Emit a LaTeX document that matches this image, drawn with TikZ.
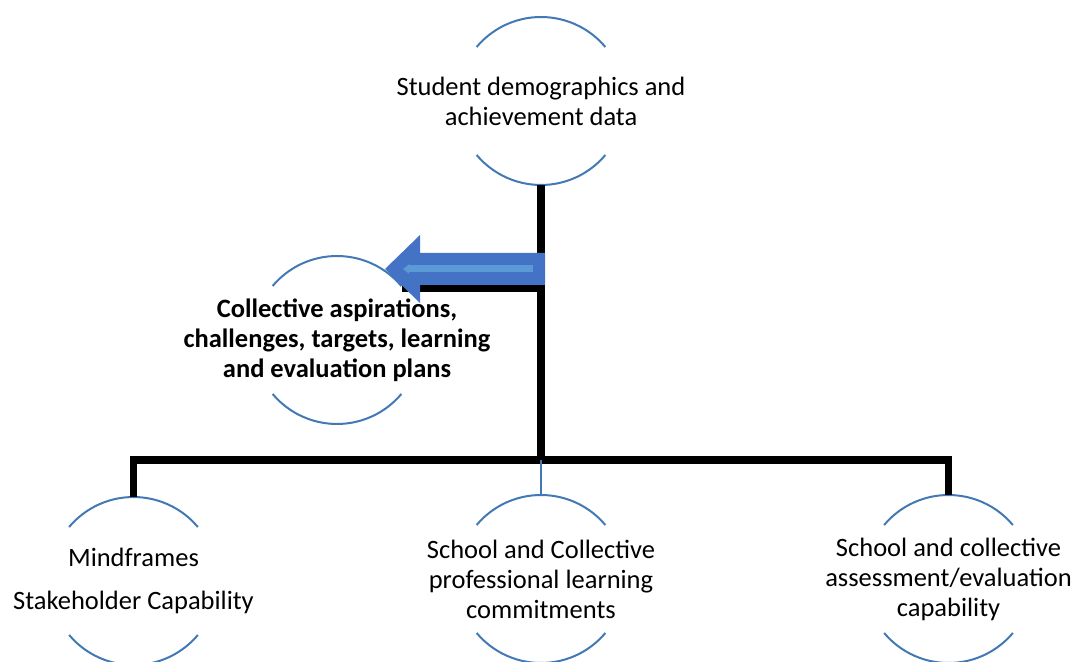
\documentclass[tikz,border=0pt]{standalone}
\usepackage{fontspec}
\setmainfont{Carlito}
\usetikzlibrary{arrows.meta,calc}
\definecolor{arcblue}{HTML}{4279B5}
\definecolor{arrowblue}{HTML}{4472C4}
\definecolor{lightblue}{HTML}{5B9BD5}
\tikzset{
  hub/.style={inner sep=0pt, align=center, font=\fontsize{26.5}{30}\selectfont},
  arcline/.style={draw=arcblue, line width=2pt},
  trunk/.style={draw=black, line width=7.5pt, line join=miter, line cap=butt},
}
\begin{document}
\begin{tikzpicture}[x=1pt,y=1pt]
\useasboundingbox (0,0) rectangle (1075,661);
% circles (text nodes)
\node[hub] (top) at (541,560) {Student demographics and\\achievement data};
\node[hub, font=\bfseries\fontsize{26.5}{30}\selectfont] (coll) at (337,321) {Collective aspirations,\\challenges, targets, learning\\and evaluation plans};
\node[hub] (mind) at (133.5,80) {Mindframes\\[13pt]Stakeholder Capability};
\node[hub] (prof) at (541,82) {School and Collective\\professional learning\\commitments};
\node[hub] (assess) at (948.5,82) {School and collective\\assessment/evaluation\\capability};
% arcs and circle tops/bottoms
\foreach \n in {top,coll,mind,prof,assess}{
  \coordinate (\n-n) at ($(\n.center)+(0,84)$);
  \coordinate (\n-s) at ($(\n.center)+(0,-84)$);
  \draw[arcline] (\n.center) ++(40:84) arc[start angle=40, end angle=140, radius=84];
  \draw[arcline] (\n.center) ++(220:84) arc[start angle=220, end angle=320, radius=84];
}
% connectors
\coordinate (bar) at (541,201);
\coordinate (branch) at (541,373);
\coordinate (branchend) at (402,373);
\draw[trunk] (top-s) -- (top-s |- bar);
\draw[trunk] (mind-n) -- (mind-n |- bar) -- (assess-n |- bar) -- (assess-n);
\draw[trunk] (branch) -- (branchend);
\draw[draw=arcblue, line width=1.5pt] (prof-n |- bar) -- (prof-n);
% block arrow toward the collective node
\coordinate (tip) at (385,392);
\fill[arrowblue] (tip) -- (420,426) -- (420,408) -- (545,408) -- (545,376) -- (420,376) -- (420,358) -- cycle;
\coordinate (istart) at (533,392);
\coordinate (iend) at (403,392);
\draw[lightblue, line width=7pt, -{Triangle[length=6pt,width=9pt]}] (istart) -- (iend);
\end{tikzpicture}
\end{document}
